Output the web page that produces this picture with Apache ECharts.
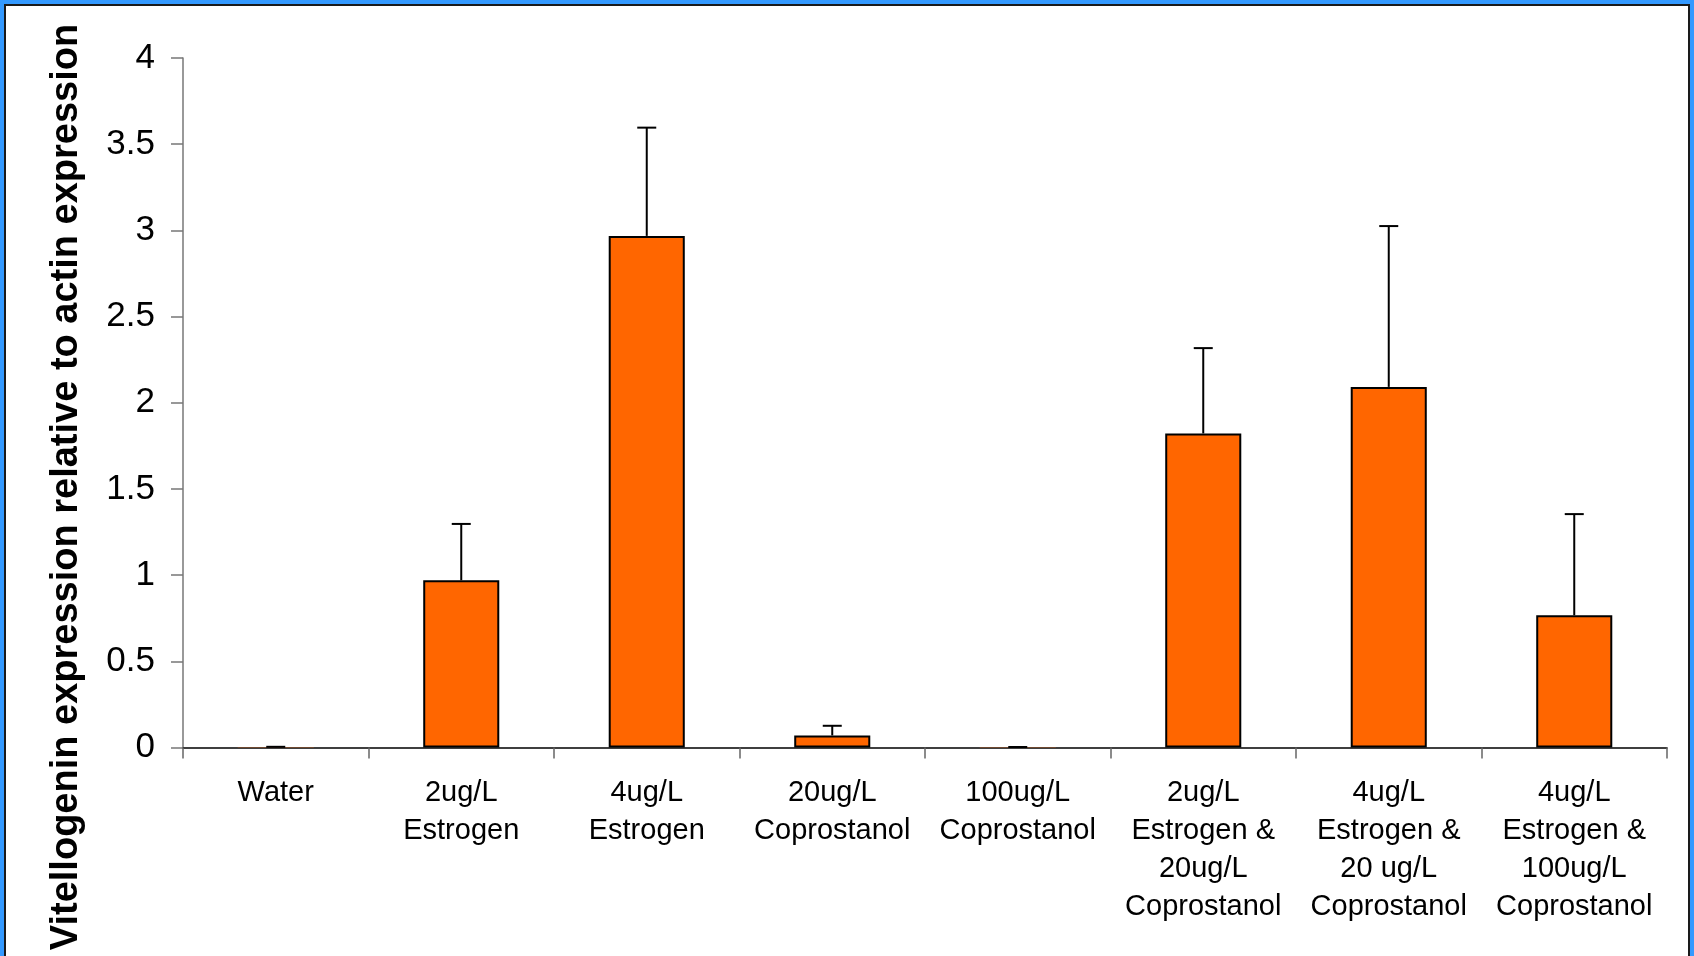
<!DOCTYPE html>
<html>
<head>
<meta charset="utf-8">
<script src="https://cdn.jsdelivr.net/npm/echarts@6/dist/echarts.min.js"></script>
<style>
  html, body { margin: 0; padding: 0; width: 1694px; height: 956px; overflow: hidden; background: #3399FF; }
  #frame { position: absolute; left: 4px; top: 4px; width: 1682px; height: 960px; background: #fff;
           border-left: 2px solid #1a1a1a; border-top: 2px solid #1a1a1a; border-right: 2px solid #1a1a1a; }
  #chart { position: absolute; left: 0; top: 0; width: 1694px; height: 956px; }
</style>
</head>
<body>
<div id="frame"></div>
<div id="chart"></div>
<script>
const categories = [
  'Water',
  '2ug/L\nEstrogen',
  '4ug/L\nEstrogen',
  '20ug/L\nCoprostanol',
  '100ug/L\nCoprostanol',
  '2ug/L\nEstrogen &\n20ug/L\nCoprostanol',
  '4ug/L\nEstrogen &\n20 ug/L\nCoprostanol',
  '4ug/L\nEstrogen &\n100ug/L\nCoprostanol'
];
const meanValues = [0.002, 0.970, 2.968, 0.070, 0.001, 1.822, 2.092, 0.767];
const errorValues = [0.002, 0.327, 0.628, 0.056, 0.002, 0.495, 0.933, 0.587];
const yTicks = { min: 0, max: 4, interval: 0.5 };
const yTitle = 'Vitellogenin expression relative to actin expression';

const FONT = '"Liberation Sans", Arial, sans-serif';
const chart = echarts.init(document.getElementById('chart'), null, { renderer: 'canvas' });

const barData = meanValues.map(v => ({
  value: v,
  itemStyle: { borderWidth: v < 0.01 ? 0 : 2 }
}));
const errData = meanValues.map((v, i) => [i, v, errorValues[i]]);

chart.setOption({
  backgroundColor: 'transparent',
  animation: false,
  grid: { left: 183, right: 27, top: 58, bottom: 208.5, containLabel: false },
  xAxis: {
    type: 'category',
    data: categories,
    boundaryGap: true,
    axisLine: { show: true, lineStyle: { color: '#000', width: 1.5 } },
    axisTick: { show: true, length: 11, alignWithLabel: false, lineStyle: { color: '#666', width: 1.5 } },
    axisLabel: { interval: 0, margin: 27, fontSize: 29, lineHeight: 37.8, color: '#000', fontFamily: FONT, align: 'center' },
    splitLine: { show: false }
  },
  yAxis: {
    type: 'value',
    min: yTicks.min, max: yTicks.max, interval: yTicks.interval,
    axisLine: { show: true, lineStyle: { color: '#777', width: 1.5 } },
    axisTick: { show: true, inside: false, length: 12, lineStyle: { color: '#777', width: 1.5 } },
    axisLabel: { margin: 28, fontSize: 35, color: '#000', fontFamily: FONT },
    splitLine: { show: false }
  },
  graphic: [{
    type: 'text',
    x: 67, y: 487,
    rotation: Math.PI / 2,
    style: {
      text: yTitle,
      font: 'bold 38px "Liberation Sans", Arial, sans-serif',
      fill: '#000',
      textAlign: 'center',
      textVerticalAlign: 'middle'
    }
  }],
  series: [
    {
      type: 'bar',
      data: barData,
      barWidth: '41%',
      itemStyle: { color: '#FF6600', borderColor: '#000', borderWidth: 2 },
      z: 2
    },
    {
      type: 'custom',
      data: errData,
      z: 3,
      renderItem: function (params, api) {
        const x = api.value(0), v = api.value(1), e = api.value(2);
        const p0 = api.coord([x, v]);
        const p1 = api.coord([x, v + e]);
        const half = 9.5;
        const st = { stroke: '#000', lineWidth: 2 };
        return {
          type: 'group',
          children: [
            { type: 'line', shape: { x1: p0[0], y1: p0[1], x2: p1[0], y2: p1[1] }, style: st },
            { type: 'line', shape: { x1: p1[0] - half, y1: p1[1], x2: p1[0] + half, y2: p1[1] }, style: st }
          ]
        };
      }
    }
  ]
});
</script>
</body>
</html>
